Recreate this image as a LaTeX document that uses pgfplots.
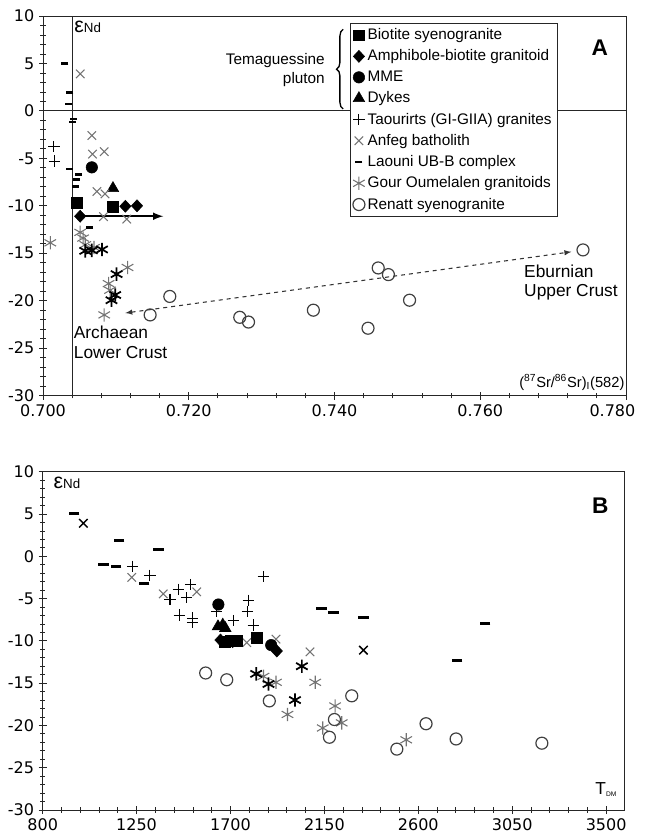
\documentclass[border=0pt]{standalone}
\usepackage{fontspec}
\setmainfont{Liberation Sans}
\newfontfamily\tickfont{DejaVu Sans}
\usepackage{pgfplots}
\pgfplotsset{compat=1.18}
\usetikzlibrary{decorations.pathreplacing}
\pgfplotsset{
 biot/.style={only marks, mark=square*, mark size=4pt, black},
 amph/.style={only marks, mark=diamond*, mark size=4.5pt, mark options={xscale=1.25}, black},
 mme/.style={only marks, mark=*, mark size=4.3pt, black},
 dyke/.style={only marks, mark=triangle*, mark size=5pt, black},
 taou/.style={only marks, mark=+, mark size=4.3pt, black, mark options={line width=0.8pt}},
 anfeg/.style={only marks, mark=x, mark size=4.5pt, black!55, mark options={line width=0.8pt}},
 anfegb/.style={only marks, mark=x, mark size=4.5pt, black, mark options={line width=1.1pt}},
 laou/.style={only marks, mark=-, mark size=2.6pt, black, mark options={line width=1.9pt}},
 laoub/.style={only marks, mark=-, mark size=4pt, black, mark options={line width=2.3pt}},
 gour/.style={only marks, mark=asterisk, mark size=5pt, black!55, mark options={line width=0.8pt}},
 gourb/.style={only marks, mark=asterisk, mark size=5pt, black, mark options={line width=1.3pt}},
 ren/.style={only marks, mark=o, mark size=4.5pt, black!75, mark options={line width=0.9pt}},
 base/.style={scale only axis, anchor=south west, ymin=-30, ymax=10,
   ytick={-30,-25,...,10}, minor y tick num=4, minor x tick num=4,
   tick pos=left, tick align=center, major tick length=6pt, minor tick length=4pt,
   axis line style={black!85, line width=0.7pt},
   every tick/.style={black!85, line width=0.6pt},
   tick label style={font=\tickfont\fontsize{12}{14}\selectfont},
   /pgf/number format/assume math mode=true,
   /pgf/number format/set thousands separator={}}
}
\begin{document}
\begin{tikzpicture}
\path[use as bounding box] (0,0) rectangle (483pt,630pt);
% ---------------- Panel A ----------------
\begin{axis}[base, at={(32.25pt,333.3pt)}, width=437.25pt, height=284.7pt,
  xmin=0.700, xmax=0.780, xtick={0.700,0.720,0.740,0.760,0.780},
  xticklabels={0.700,0.720,0.740,0.760,\hspace*{14pt}\makebox[0pt][r]{0.780}},
  legend style={at={(0.5266,0.9816)}, anchor=north west, draw=black!85,
    font=\fontsize{11.5}{13.5}\selectfont, row sep=2.1pt, inner sep=2pt, cells={anchor=west}},
  legend cell align=left]
\addplot[biot] coordinates {(0.7046,-9.65) (0.7096,-10.1)};
\addlegendentry{Biotite syenogranite}
\addplot[amph] coordinates {(0.7051,-11.1) (0.7113,-10.05) (0.7129,-10.0)};
\addlegendentry{Amphibole-biotite granitoid}
\addplot[mme] coordinates {(0.7067,-5.95)};
\addlegendentry{MME}
\addplot[dyke] coordinates {(0.7096,-8.15)};
\addlegendentry{Dykes}
\addplot[taou] coordinates {(0.7015,-3.75) (0.7016,-5.3)};
\addlegendentry{Taourirts (GI-GIIA) granites}
\addplot[anfeg] coordinates {(0.7051,3.9) (0.7067,-2.6) (0.7068,-4.55) (0.7084,-4.3) (0.7074,-8.5) (0.7085,-8.75) (0.7083,-11.15) (0.7115,-11.4)};
\addlegendentry{Anfeg batholith}
\addplot[laou] coordinates {(0.7030,5.0) (0.7037,1.95) (0.7035,0.75) (0.7042,-0.85) (0.7040,-1.15) (0.7036,-6.1) (0.7049,-6.7) (0.7046,-7.25) (0.7044,-7.95) (0.7064,-12.3)};
\addlegendentry{Laouni UB-B complex}
\addplot[gour] coordinates {(0.7010,-13.9) (0.7051,-12.8) (0.7055,-13.4) (0.7058,-14.1) (0.7070,-14.4) (0.7116,-16.5) (0.7090,-18.2) (0.7092,-18.9) (0.7084,-21.5)};
\addlegendentry{Gour Oumelalen granitoids}
\addplot[ren] coordinates {(0.7174,-19.55) (0.7147,-21.5) (0.7270,-21.75) (0.7282,-22.25) (0.7371,-21.0) (0.7460,-16.55) (0.7474,-17.25) (0.7503,-19.95) (0.7446,-22.9) (0.7741,-14.65)};
\addlegendentry{Renatt syenogranite}
\addplot[gourb, forget plot] coordinates {(0.7058,-14.75) (0.7067,-14.7) (0.7081,-14.6) (0.7101,-17.2) (0.7099,-19.4) (0.7094,-19.95)};
% reference lines
\addplot[black!85, line width=0.8pt, forget plot] coordinates {(0.704,-30) (0.704,10)};
\addplot[black!85, line width=0.8pt, forget plot] coordinates {(0.700,0) (0.780,0)};
% arrows
\addplot[black, line width=1.6pt, -latex, forget plot] coordinates {(0.7058,-11.1) (0.7165,-11.1)};
\addplot[black!80, line width=0.8pt, dashed, latex-latex, forget plot] coordinates {(0.7113,-21.3) (0.7725,-14.85)};
% annotations
\node[anchor=north west, inner sep=1pt] at (axis cs:0.7041,9.6) {{\fontsize{16}{18}\selectfont ε}{\fontsize{10}{12}\selectfont Nd}};
\node[anchor=east, align=right, inner sep=0pt, font=\fontsize{11.5}{14}\selectfont] at (axis cs:0.7387,4.3) {Temaguessine\\pluton};
\draw[decorate, decoration={brace, amplitude=5pt}, line width=1pt] (axis cs:0.7412,0.2) -- (axis cs:0.7412,8.6);
\node[font=\bfseries\fontsize{17}{19}\selectfont] at (axis cs:0.7764,6.7) {A};
\node[anchor=west, align=left, inner sep=0pt, font=\fontsize{13}{14.5}\selectfont] at (axis cs:0.7042,-24.4) {Archaean\\Lower Crust};
\node[anchor=west, align=left, inner sep=0pt, font=\fontsize{13}{14.5}\selectfont] at (axis cs:0.7660,-18.1) {Eburnian\\Upper Crust};
\node[anchor=east, inner sep=1pt, font=\fontsize{11}{13}\selectfont] at (axis cs:0.7800,-28.6) {(\textsuperscript{87}Sr/\textsuperscript{86}Sr)\textsubscript{I}(582)};
\end{axis}
% ---------------- Panel B ----------------
\begin{axis}[base, at={(32pt,22.5pt)}, width=436.7pt, height=253.7pt,
  xmin=800, xmax=3590, xtick={800,1250,1700,2150,2600,3050,3500}]
\addplot[laoub] coordinates {(950,5.05) (1166,1.9) (1354,0.75) (1090,-0.95) (1151,-1.25) (1286,-3.2) (2135,-6.15) (2193,-6.7) (2337,-7.2) (2920,-7.9) (2785,-12.3)};
\addplot[anfeg] coordinates {(1227,-2.5) (1378,-4.45) (1538,-4.2) (1778,-10.2) (1918,-9.8) (2081,-11.3)};
\addplot[anfegb] coordinates {(995,3.9) (2337,-11.1)};
\addplot[taou] coordinates {(1231,-1.2) (1314,-2.25) (1410,-5.1) (1450,-3.9) (1490,-4.9) (1509,-3.35) (1455,-6.95) (1519,-7.3) (1519,-7.8) (1634,-6.5) (1714,-7.6) (1857,-2.4) (1786,-5.2) (1781,-6.55) (1810,-8.15)};
\addplot[gour] coordinates {(1858,-14.2) (1918,-14.9) (1973,-18.7) (2106,-14.9) (2142,-20.3) (2201,-17.7) (2233,-19.7) (2542,-21.7)};
\addplot[gourb] coordinates {(1823,-13.9) (1882,-15.1) (2042,-13.0) (2009,-17.0)};
\addplot[ren] coordinates {(1581,-13.8) (1682,-14.6) (1886,-17.1) (2281,-16.5) (2198,-19.3) (2174,-21.4) (2497,-22.8) (2637,-19.8) (2781,-21.6) (3192,-22.1)};
\addplot[dyke] coordinates {(1640,-8.3) (1663,-8.1) (1675,-8.5)};
\addplot[amph] coordinates {(1652,-9.9) (1710,-10.1) (1922,-11.2)};
\addplot[biot] coordinates {(1674,-10.1) (1700,-10.0) (1730,-9.95) (1826,-9.6)};
\addplot[mme] coordinates {(1642,-5.7) (1895,-10.5)};
\node[anchor=north west, inner sep=1pt] at (axis cs:845,9.6) {{\fontsize{16}{18}\selectfont ε}{\fontsize{10}{12}\selectfont Nd}};
\node[font=\bfseries\fontsize{17}{19}\selectfont] at (axis cs:3472,5.95) {B};
\node[anchor=east, inner sep=1pt, font=\fontsize{13}{15}\selectfont] at (axis cs:3560,-27.6) {T\textsubscript{\fontsize{5}{6}\selectfont DM}};
\end{axis}
\end{tikzpicture}
\end{document}
